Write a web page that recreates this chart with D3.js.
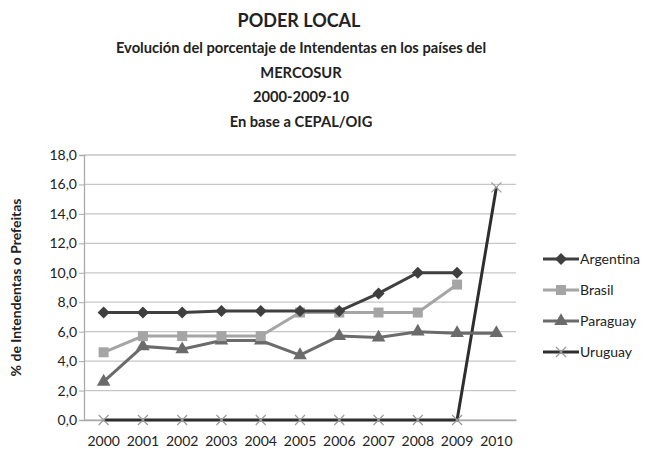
<!DOCTYPE html>
<html>
<head>
<meta charset="utf-8">
<script src="https://cdn.jsdelivr.net/npm/d3@7"></script>
<style>
body { margin: 0; background: #fff; }
text { font-family: Lato, "Open Sans", sans-serif; fill: #222; }
</style>
</head>
<body>
<div id="chart"></div>
<script>
var years = ['2000','2001','2002','2003','2004','2005','2006','2007','2008','2009','2010'];
var argentina = [7.3, 7.3, 7.3, 7.4, 7.4, 7.4, 7.4, 8.6, 10.0, 10.0, null];
var brasil = [4.6, 5.7, 5.7, 5.7, 5.7, 7.3, 7.3, 7.3, 7.3, 9.2, null];
var paraguay = [2.6, 5.0, 4.8, 5.4, 5.4, 4.4, 5.7, 5.6, 6.0, 5.9, 5.9];
var uruguay = [0, 0, 0, 0, 0, 0, 0, 0, 0, 0, 15.8];
var yTicks = [0, 2, 4, 6, 8, 10, 12, 14, 16, 18];
var titleLines = ['Evolución del porcentaje de Intendentas en los países del', 'MERCOSUR', '2000-2009-10', 'En base a CEPAL/OIG'];

var series = [
	{name: 'Argentina', values: argentina, line: '#3f3f3f', fill: '#3f3f3f', marker: 'diamond'},
	{name: 'Brasil', values: brasil, line: '#a5a5a5', fill: '#a5a5a5', marker: 'square'},
	{name: 'Paraguay', values: paraguay, line: '#6b6b6b', fill: '#6b6b6b', marker: 'triangle'},
	{name: 'Uruguay', values: uruguay, line: '#2e2e2e', fill: '#9a9a9a', marker: 'cross'}
];

var W = 649, H = 455;
var plot = {left: 84, right: 516, top: 155, bottom: 420};

var svg = d3.select('#chart')
	.append('svg')
	.attr('width', W)
	.attr('height', H);

// titles
svg.append('text')
	.attr('x', 299).attr('y', 27)
	.attr('text-anchor', 'middle')
	.style('font-size', '18px')
	.style('font-weight', 'bold')
	.text('PODER LOCAL');

titleLines.forEach(function(t, i) {
	svg.append('text')
		.attr('x', 301).attr('y', 53 + i * 24.5)
		.attr('text-anchor', 'middle')
		.style('font-size', '14.7px')
		.style('font-weight', 'bold')
		.text(t);
});

var x = d3.scaleBand()
	.domain(years)
	.range([plot.left, plot.right]);

var y = d3.scaleLinear()
	.domain([0, 18])
	.range([plot.bottom, plot.top]);

// gridlines
svg.append('g')
	.selectAll('line')
	.data(yTicks)
	.enter()
	.append('line')
	.attr('x1', plot.left).attr('x2', plot.right)
	.attr('y1', d => y(d)).attr('y2', d => y(d))
	.attr('stroke', '#c6c6c6')
	.attr('stroke-width', 1.3);

// y axis
var yAxis = svg.append('g')
	.attr('transform', 'translate(' + plot.left + ',0)')
	.call(d3.axisLeft(y).tickValues(yTicks).tickSize(5)
		.tickFormat(d => d3.format('.1f')(d).replace('.', ',')));
yAxis.select('.domain').attr('stroke', '#aaaaaa').attr('stroke-width', 1.3);
yAxis.selectAll('.tick line').attr('stroke', '#aaaaaa');
yAxis.selectAll('.tick text')
	.attr('x', -7)
	.style('font-size', '14px')
	.style('font-family', 'Lato, "Open Sans", sans-serif')
	.attr('fill', '#222');

// x axis labels
var xAxis = svg.append('g')
	.attr('transform', 'translate(0,' + plot.bottom + ')')
	.call(d3.axisBottom(x).tickSize(0).tickPadding(16));
xAxis.select('.domain').attr('stroke', '#aaaaaa').attr('stroke-width', 1.3);
xAxis.selectAll('.tick text')
	.style('font-size', '14px')
	.style('font-family', 'Lato, "Open Sans", sans-serif')
	.attr('fill', '#222');

svg.append('text')
	.attr('transform', 'translate(21,' + ((plot.top + plot.bottom) / 2) + ') rotate(-90)')
	.attr('text-anchor', 'middle')
	.style('font-size', '14px')
	.style('font-weight', 'bold')
	.text('% de Intendentas o Prefeitas');

var cx = function(i) { return x(years[i]) + x.bandwidth() / 2; };

var markerPath = function(kind) {
	if (kind == 'diamond') return 'M0,-6L6,0L0,6L-6,0Z';
	if (kind == 'square') return d3.symbol().type(d3.symbolSquare).size(100)();
	if (kind == 'triangle') return d3.symbol().type(d3.symbolTriangle).size(80)();
	return 'M-5,-5L5,5M-5,5L5,-5';
};

var line = d3.line()
	.defined(d => d.v != null)
	.x(d => cx(d.i))
	.y(d => y(d.v));

// draw in order so Argentina ends up on top
var order = [3, 2, 1, 0];
order.forEach(function(k) {
	var s = series[k];
	var pts = s.values.map((v, i) => ({v: v, i: i}));
	var g = svg.append('g');
	g.append('path')
		.datum(pts)
		.attr('d', line)
		.attr('fill', 'none')
		.attr('stroke', s.line)
		.attr('stroke-width', 3);
	g.selectAll('.m')
		.data(pts.filter(d => d.v != null))
		.enter()
		.append('path')
		.attr('class', 'm')
		.attr('d', markerPath(s.marker))
		.attr('transform', d => 'translate(' + cx(d.i) + ',' + y(d.v) + ')')
		.attr('fill', s.marker == 'cross' ? 'none' : s.fill)
		.attr('stroke', s.marker == 'cross' ? s.fill : 'none')
		.attr('stroke-width', 1.2);
});

// legend
var legendY = [259, 290, 321, 352];
series.forEach(function(s, i) {
	var g = svg.append('g').attr('transform', 'translate(543,' + legendY[i] + ')');
	g.append('line')
		.attr('x1', 0).attr('x2', 36)
		.attr('stroke', s.line)
		.attr('stroke-width', 3);
	g.append('path')
		.attr('d', markerPath(s.marker))
		.attr('transform', 'translate(18,0)')
		.attr('fill', s.marker == 'cross' ? 'none' : s.fill)
		.attr('stroke', s.marker == 'cross' ? s.fill : 'none')
		.attr('stroke-width', 1.2);
	g.append('text')
		.attr('x', 37).attr('y', 5)
		.style('font-size', '14px')
		.text(s.name);
});
</script>
</body>
</html>
